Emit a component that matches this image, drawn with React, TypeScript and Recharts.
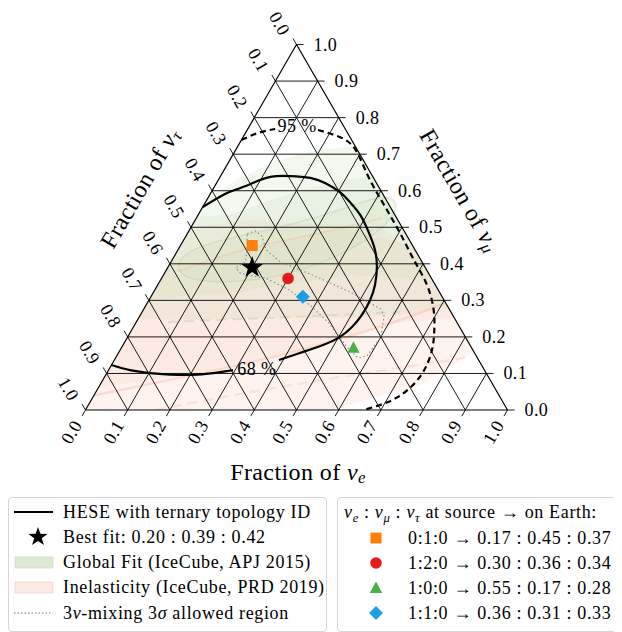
import React from "react";
import { ScatterChart, Scatter, XAxis, YAxis, Curve } from "recharts";

// ternary points are [fraction of nu_e, fraction of nu_mu]; nu_tau = 1 - e - mu
type TP = [number, number];

const TICK_VALUES = [0.0, 0.1, 0.2, 0.3, 0.4, 0.5, 0.6, 0.7, 0.8, 0.9, 1.0];
const TICK_LABELS = ["0.0", "0.1", "0.2", "0.3", "0.4", "0.5", "0.6", "0.7", "0.8", "0.9", "1.0"];
const GRID_VALUES = [0.1, 0.2, 0.3, 0.4, 0.5, 0.6, 0.7, 0.8, 0.9];

// HESE with ternary topology ID, 68% (split where the label sits)
const HESE68_A: TP[] = [
  [0.0, 0.123], [0.051, 0.109], [0.102, 0.101], [0.152, 0.097], [0.204, 0.096], [0.252, 0.101], [0.295, 0.109],
];
const HESE68_B: TP[] = [
  [0.39, 0.137], [0.43, 0.156], [0.474, 0.178], [0.503, 0.2], [0.518, 0.227], [0.525, 0.26], [0.524, 0.301],
  [0.515, 0.342], [0.495, 0.391], [0.467, 0.438], [0.43, 0.484], [0.384, 0.534], [0.342, 0.569], [0.305, 0.596],
  [0.257, 0.621], [0.215, 0.635], [0.165, 0.64], [0.119, 0.638], [0.09, 0.624], [0.062, 0.607], [0.035, 0.591],
  [0.0, 0.555],
];
// 95%
const HESE95_A: TP[] = [[0.0, 0.739], [0.03, 0.758], [0.065, 0.769]];
const HESE95_B: TP[] = [
  [0.168, 0.766], [0.215, 0.752], [0.262, 0.73], [0.306, 0.689], [0.357, 0.632], [0.41, 0.578], [0.462, 0.526],
  [0.513, 0.474], [0.56, 0.424], [0.6, 0.383], [0.645, 0.334], [0.688, 0.274], [0.717, 0.219], [0.739, 0.164],
  [0.748, 0.104], [0.736, 0.055], [0.706, 0.022], [0.658, 0.0],
];

// 3nu-mixing 3 sigma allowed region
const MIXING_3SIGMA: TP[] = [
  [0.142, 0.482], [0.157, 0.49], [0.18, 0.476], [0.209, 0.438], [0.259, 0.405], [0.354, 0.369], [0.465, 0.323],
  [0.562, 0.276], [0.579, 0.257], [0.6, 0.2], [0.593, 0.148], [0.575, 0.142], [0.534, 0.172], [0.454, 0.241],
  [0.388, 0.287], [0.32, 0.328], [0.253, 0.358], [0.179, 0.375], [0.162, 0.389], [0.176, 0.405], [0.164, 0.438],
];

// Global Fit (IceCube, APJ 2015) nested regions
const GLOBAL_FIT_1: TP[] = [
  [0.0, 0.25], [0.0, 0.58], [0.049, 0.635], [0.11, 0.679], [0.188, 0.711], [0.28, 0.72], [0.72, 0.28],
  [0.615, 0.26], [0.477, 0.252], [0.335, 0.252], [0.148, 0.246],
];
const GLOBAL_FIT_2: TP[] = [
  [0.0, 0.3], [0.226, 0.328], [0.442, 0.369], [0.64, 0.36], [0.36, 0.64], [0.207, 0.602], [0.076, 0.534], [0.0, 0.53],
];
const GLOBAL_FIT_3: TP[] = [
  [0.016, 0.416], [0.046, 0.451], [0.128, 0.476], [0.232, 0.506], [0.33, 0.547], [0.404, 0.588], [0.453, 0.575],
  [0.467, 0.534], [0.442, 0.465], [0.345, 0.389], [0.243, 0.356], [0.128, 0.348], [0.055, 0.361], [0.022, 0.389],
];
// Inelasticity (IceCube, PRD 2019) nested regions
const INELASTICITY_1: TP[] = [
  [0.0, 0.0], [0.579, 0.0], [0.758, 0.068], [0.84, 0.16], [0.55, 0.45], [0.326, 0.506], [0.13, 0.52], [0.0, 0.5],
];
const INELASTICITY_2: TP[] = [
  [0.0, 0.06], [0.219, 0.104], [0.426, 0.164], [0.625, 0.241], [0.75, 0.25], [0.6, 0.4], [0.445, 0.506],
  [0.297, 0.484], [0.164, 0.438], [0.032, 0.383], [0.0, 0.4],
];
const INELASTICITY_EDGE_A: TP[] = [[0.0, 0.04], [0.386, 0.15], [0.622, 0.246], [0.705, 0.293]];
const INELASTICITY_EDGE_B: TP[] = [[0.03, 0.38], [0.16, 0.44], [0.3, 0.48], [0.44, 0.525]];
const INELASTICITY_EDGE_C: TP[] = [[0.167, 0.0], [0.429, 0.063], [0.839, 0.145]];
const GLOBAL_FIT_EDGE: TP[] = [[0.075, 0.241], [0.346, 0.254], [0.611, 0.268]];

const BEST_FIT: TP = [0.2, 0.39];
const SOURCE_NAMES = ["0:1:0", "1:2:0", "1:0:0", "1:1:0"];
const SOURCE_E = [0.17, 0.3, 0.55, 0.36];
const SOURCE_MU = [0.45, 0.36, 0.17, 0.31];
const SOURCE_TAU = [0.37, 0.34, 0.28, 0.33];
const SOURCE_COLORS = ["#ff7f0e", "#e41a1c", "#4daf4a", "#1a9ee6"];
const SOURCE_SHAPES = ["square", "circle", "triangle", "diamond"];

// ---- layout ----
const W = 614;
const H = 624;
const SIDE = 422;
const LEFT_PX = 77.5;
const BASE_PX = 402;
const PX = 1 / SIDE;
const X0 = -LEFT_PX * PX;
const X1 = X0 + W * PX;
const Y1 = BASE_PX * PX;
const Y0 = Y1 - H * PX;
const H3 = Math.sqrt(3) / 2;
const TL = 7 * PX;
const FONT = "'Liberation Serif', serif";

const tern = (e: number, mu: number) => ({ x: e + mu / 2, y: mu * H3 });
const pts = (list: TP[]) => list.map(([e, m]) => tern(e, m));
const noDot = () => <g />;

const gridSegs: { x: number; y: number }[] = [];
GRID_VALUES.forEach((t) => {
  gridSegs.push(tern(0, t), tern(1 - t, t)); // mu = t
  gridSegs.push(tern(t, 0), tern(t, 1 - t)); // e = t
  gridSegs.push(tern(0, 1 - t), tern(1 - t, 0)); // tau = t
});
TICK_VALUES.forEach((t) => {
  const r = tern(1 - t, t);
  gridSegs.push(r, { x: r.x + TL, y: r.y });
  const b = tern(t, 0);
  gridSegs.push(b, { x: b.x - 0.5 * TL, y: b.y - H3 * TL });
  const l = tern(0, 1 - t);
  gridSegs.push(l, { x: l.x - 0.5 * TL, y: l.y + H3 * TL });
});
const frame = [tern(0, 0), tern(1, 0), tern(1, 0), tern(0, 1), tern(0, 1), tern(0, 0)];

type Lbl = { x: number; y: number; text: string; rot: number; anchor: string; size: number; sub?: string };
const labels: Lbl[] = [];
TICK_VALUES.forEach((t, i) => {
  const b = tern(t, 0);
  labels.push({ x: b.x - 14 * PX, y: b.y - 22 * PX, text: TICK_LABELS[i], rot: -60, anchor: "middle", size: 18 });
  const l = tern(0, 1 - t);
  labels.push({ x: l.x - 17 * PX, y: l.y + 21 * PX, text: TICK_LABELS[i], rot: 60, anchor: "middle", size: 18 });
  const r = tern(1 - t, t);
  labels.push({ x: r.x + 17 * PX, y: r.y, text: TICK_LABELS[i], rot: 0, anchor: "start", size: 18 });
});
labels.push({ ...tern(0.35, 0.112), text: "68 %", rot: 0, anchor: "middle", size: 18 });
labels.push({ ...tern(0.113, 0.777), text: "95 %", rot: 0, anchor: "middle", size: 18 });
labels.push({ x: 0.5036, y: -0.147, text: "Fraction of ", rot: 0, anchor: "middle", size: 24, sub: "e" });
labels.push({ x: 0.129, y: 0.526, text: "Fraction of ", rot: -60, anchor: "middle", size: 24, sub: "τ" });
labels.push({ x: 0.887, y: 0.521, text: "Fraction of ", rot: 60, anchor: "middle", size: 24, sub: "μ" });

const LabelShape = (props: any) => {
  const { cx, cy, payload } = props;
  const p = payload as Lbl;
  return (
    <text
      x={cx}
      y={cy}
      transform={p.rot ? `rotate(${p.rot} ${cx} ${cy})` : undefined}
      textAnchor={p.anchor}
      dominantBaseline="central"
      fontFamily={FONT}
      fontSize={p.size}
      letterSpacing={0.4}
      fill="#000"
    >
      {p.text}
      {p.sub && <tspan fontStyle="italic">ν</tspan>}
      {p.sub && (
        <tspan fontStyle="italic" fontSize={p.size * 0.7} dy={5}>
          {p.sub}
        </tspan>
      )}
    </text>
  );
};

function starPath(cx: number, cy: number, R: number) {
  let d = "";
  for (let i = 0; i < 10; i++) {
    const a = (-90 + i * 36) * (Math.PI / 180);
    const r = i % 2 ? R * 0.4 : R;
    d += `${i ? "L" : "M"}${cx + r * Math.cos(a)},${cy + r * Math.sin(a)}`;
  }
  return d + "Z";
}

function markerEl(shape: string, cx: number, cy: number, color: string) {
  if (shape === "square") return <rect x={cx - 5.5} y={cy - 5.5} width={11} height={11} fill={color} />;
  if (shape === "circle") return <circle cx={cx} cy={cy} r={5.8} fill={color} />;
  if (shape === "triangle")
    return <path d={`M${cx},${cy - 6.5}L${cx + 6.2},${cy + 5}L${cx - 6.2},${cy + 5}Z`} fill={color} />;
  return <path d={`M${cx},${cy - 7}L${cx + 7},${cy}L${cx},${cy + 7}L${cx - 7},${cy}Z`} fill={color} />;
}

const MarkerShape = (props: any) => {
  const { cx, cy, payload } = props;
  if (payload.shape === "star") return <path d={starPath(cx, cy, 11.5)} fill="#000" />;
  return markerEl(payload.shape, cx, cy, payload.color);
};

const markers = [
  ...SOURCE_NAMES.map((_, i) => ({ ...tern(SOURCE_E[i], SOURCE_MU[i]), shape: SOURCE_SHAPES[i], color: SOURCE_COLORS[i] })),
  { ...tern(BEST_FIT[0], BEST_FIT[1]), shape: "star", color: "#000" },
];

const fillLine = (fill: string, type: any = "linearClosed") => (p: any) => (
  <Curve points={p.points} type={type} fill={fill} stroke="none" />
);
const strokeLine = (stroke: string, width: number, dash?: string, type: any = "natural") => (p: any) => (
  <Curve points={p.points} type={type} fill="none" stroke={stroke} strokeWidth={width} strokeDasharray={dash} />
);
const segLine = (stroke: string, width: number) => (p: any) => {
  const q = p.points;
  let d = "";
  for (let i = 0; i + 1 < q.length; i += 2) d += `M${q[i].x},${q[i].y}L${q[i + 1].x},${q[i + 1].y}`;
  return <path d={d} stroke={stroke} strokeWidth={width} fill="none" />;
};

const PINK = "rgba(251,212,196,0.27)";
const GREEN = "rgba(200,222,182,0.22)";

function Row({ top, children }: { top: number; children: React.ReactNode }) {
  return (
    <div style={{ position: "absolute", top: top - 12, left: 0, right: 0, height: 24, display: "flex", alignItems: "center" }}>
      {children}
    </div>
  );
}

const nu = (sub: string) => (
  <span>
    <i>ν</i>
    <i style={{ fontSize: "0.7em", position: "relative", top: 4 }}>{sub}</i>
  </span>
);

function Legends() {
  const box: React.CSSProperties = {
    position: "absolute",
    top: 489,
    height: 133,
    border: "1px solid #d5d5d5",
    borderRadius: 4,
    background: "#fff",
    fontFamily: FONT,
    fontSize: 18,
    letterSpacing: 0.65,
    whiteSpace: "nowrap",
  };
  const handle = (child: React.ReactNode) => (
    <svg width={44} height={24} style={{ position: "absolute", left: 4, top: 0 }}>
      {child}
    </svg>
  );
  const text = (t: React.ReactNode, left: number) => <div style={{ position: "absolute", left }}>{t}</div>;
  return (
    <>
      <div style={{ ...box, left: 0, width: 317 }}>
        <Row top={14}>
          {handle(<line x1={1} x2={40} y1={12} y2={12} stroke="#000" strokeWidth={2} />)}
          {text("HESE with ternary topology ID", 54)}
        </Row>
        <Row top={39}>
          {handle(<path d={starPath(25, 12, 10)} fill="#000" />)}
          {text("Best fit: 0.20 : 0.39 : 0.42", 54)}
        </Row>
        <Row top={64}>
          {handle(<rect x={2} y={7} width={38} height={11} fill="#dde9d3" stroke="#cfdfc3" strokeWidth={0.8} />)}
          {text("Global Fit (IceCube, APJ 2015)", 54)}
        </Row>
        <Row top={89}>
          {handle(<rect x={2} y={7} width={38} height={11} fill="#fdeae4" stroke="#f4d7cd" strokeWidth={0.8} />)}
          {text("Inelasticity (IceCube, PRD 2019)", 54)}
        </Row>
        <Row top={115}>
          {handle(<line x1={1} x2={40} y1={12} y2={12} stroke="#777" strokeWidth={1.2} strokeDasharray="1.5 2" />)}
          {text(
            <span>
              3<i>ν</i>-mixing 3<i>σ</i> allowed region
            </span>,
            54
          )}
        </Row>
      </div>
      <div style={{ ...box, left: 329, width: 300 }}>
        <Row top={14}>
          {text(
            <span>
              {nu("e")} : {nu("μ")} : {nu("τ")} at source → on Earth:
            </span>,
            6
          )}
        </Row>
        {SOURCE_NAMES.map((name, i) => (
          <Row key={name} top={40 + i * 25}>
            <svg width={24} height={24} style={{ position: "absolute", left: 26, top: 0 }}>
              {markerEl(SOURCE_SHAPES[i], 12, 12, SOURCE_COLORS[i])}
            </svg>
            {text(
              `${name} → ${SOURCE_E[i].toFixed(2)} : ${SOURCE_MU[i].toFixed(2)} : ${SOURCE_TAU[i].toFixed(2)}`,
              70
            )}
          </Row>
        ))}
      </div>
    </>
  );
}

export default function App() {
  return (
    <div style={{ position: "relative", width: W, height: H }}>
      <style>{"html,body{overflow:hidden}"}</style>
      <ScatterChart width={W} height={H} margin={{ top: 0, right: 0, bottom: 0, left: 0 }} style={{ overflow: "visible" }}>
        <XAxis type="number" dataKey="x" domain={[X0, X1]} hide allowDataOverflow />
        <YAxis type="number" dataKey="y" domain={[Y0, Y1]} hide allowDataOverflow />

        <Scatter data={pts(INELASTICITY_1)} shape={noDot} lineType="joint" line={fillLine(PINK)} isAnimationActive={false} />
        <Scatter data={pts(INELASTICITY_2)} shape={noDot} lineType="joint" line={fillLine(PINK)} isAnimationActive={false} />
        <Scatter data={pts(GLOBAL_FIT_1)} shape={noDot} lineType="joint" line={fillLine(GREEN)} isAnimationActive={false} />
        <Scatter data={pts(GLOBAL_FIT_2)} shape={noDot} lineType="joint" line={fillLine(GREEN)} isAnimationActive={false} />
        <Scatter data={pts(GLOBAL_FIT_3)} shape={noDot} lineType="joint" line={fillLine(GREEN, "basisClosed")} isAnimationActive={false} />
        <Scatter data={pts(INELASTICITY_EDGE_A)} shape={noDot} lineType="joint" line={strokeLine("rgba(248,190,170,0.45)", 2.5)} isAnimationActive={false} />
        <Scatter data={pts(INELASTICITY_EDGE_B)} shape={noDot} lineType="joint" line={strokeLine("rgba(248,190,170,0.45)", 2)} isAnimationActive={false} />
        <Scatter data={pts(INELASTICITY_EDGE_C)} shape={noDot} lineType="joint" line={strokeLine("rgba(248,200,180,0.4)", 2.5, "10 6")} isAnimationActive={false} />
        <Scatter data={pts(GLOBAL_FIT_EDGE)} shape={noDot} lineType="joint" line={strokeLine("rgba(190,215,175,0.5)", 2, "10 6")} isAnimationActive={false} />
        <Scatter data={pts(GLOBAL_FIT_3)} shape={noDot} lineType="joint" line={strokeLine("rgba(185,212,170,0.5)", 1.2, undefined, "basisClosed")} isAnimationActive={false} />

        <Scatter data={gridSegs} shape={noDot} lineType="joint" line={segLine("#000", 0.9)} isAnimationActive={false} />
        <Scatter data={frame} shape={noDot} lineType="joint" line={segLine("#000", 1.2)} isAnimationActive={false} />

        <Scatter data={pts(MIXING_3SIGMA)} shape={noDot} lineType="joint" line={strokeLine("#888", 1.1, "1.5 2.5", "linearClosed")} isAnimationActive={false} />
        <Scatter data={pts(HESE68_A)} shape={noDot} lineType="joint" line={strokeLine("#000", 2.2)} isAnimationActive={false} />
        <Scatter data={pts(HESE68_B)} shape={noDot} lineType="joint" line={strokeLine("#000", 2.2)} isAnimationActive={false} />
        <Scatter data={pts(HESE95_A)} shape={noDot} lineType="joint" line={strokeLine("#000", 2.2, "6 4")} isAnimationActive={false} />
        <Scatter data={pts(HESE95_B)} shape={noDot} lineType="joint" line={strokeLine("#000", 2.2, "6 4")} isAnimationActive={false} />

        <Scatter data={markers} shape={MarkerShape} isAnimationActive={false} />
        <Scatter data={labels} shape={LabelShape} isAnimationActive={false} />
      </ScatterChart>
      <Legends />
    </div>
  );
}
